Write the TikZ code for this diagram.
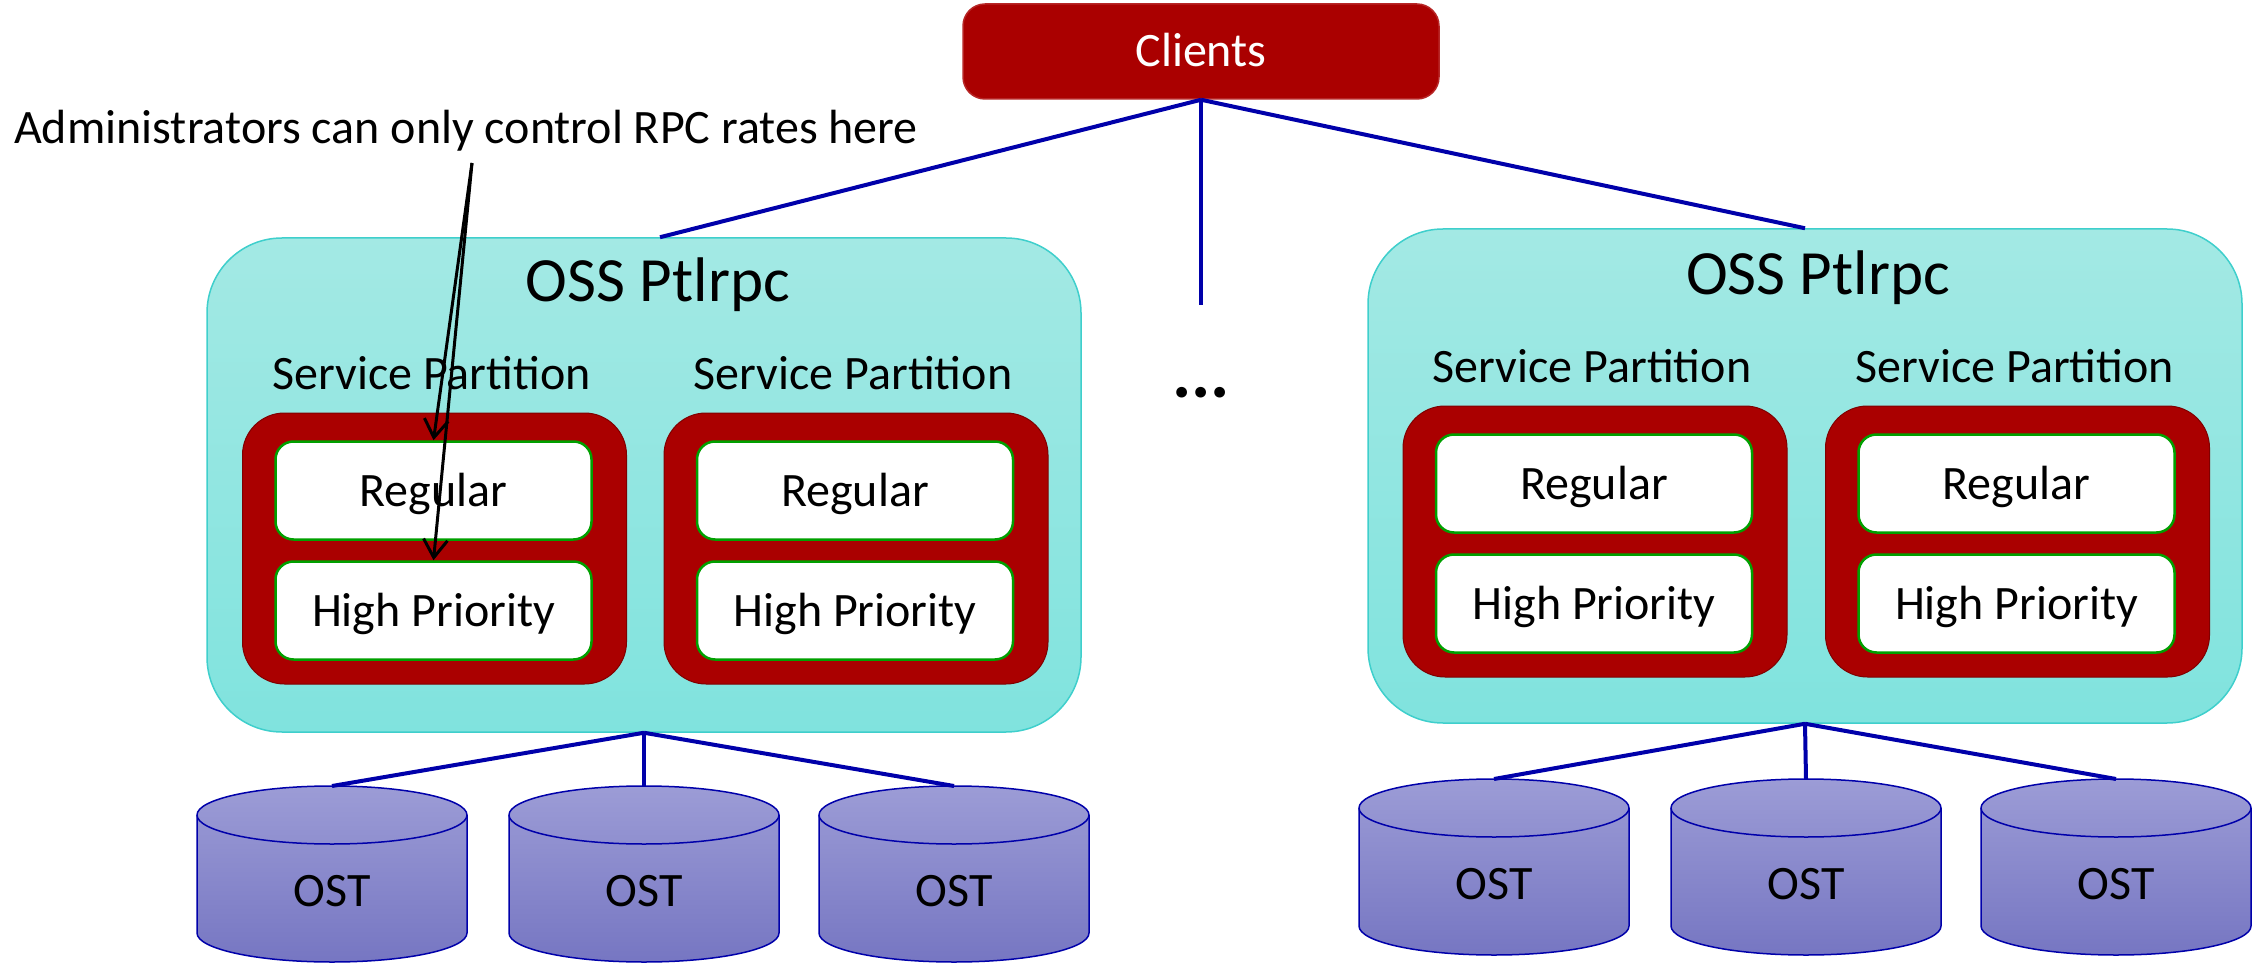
\documentclass[tikz,border=0pt]{standalone}
\usepackage{fontspec}
\setmainfont{Carlito}
\usetikzlibrary{arrows.meta,calc}
\definecolor{cred}{HTML}{AA0000}
\definecolor{osstop}{HTML}{A3E9E4}
\definecolor{ossbot}{HTML}{80E3DE}
\definecolor{ossline}{HTML}{3FCFCC}
\definecolor{grn}{HTML}{00A000}
\definecolor{cyltop}{HTML}{9C9CD6}
\definecolor{cylbot}{HTML}{7676C2}
\definecolor{dblue}{HTML}{0000AA}
\tikzset{
  txt/.style={font=\fontsize{48}{57}\selectfont},
  bigtxt/.style={font=\fontsize{63}{75}\selectfont},
  clientbox/.style={draw=cred!85!white, fill=cred, rounded corners=22, minimum width=476, minimum height=95, text=white, txt, text height=31, text depth=0, line width=1.5, inner sep=0},
  ossbox/.style={draw=ossline, top color=osstop, bottom color=ossbot, rounded corners=75, minimum width=874, minimum height=494, line width=1.5, inner sep=0},
  partbox/.style={draw=cred!75!black, fill=cred, rounded corners=42, minimum width=384, minimum height=271, line width=1, inner sep=0},
  qbox/.style={draw=grn, fill=white, rounded corners=18, minimum width=316, minimum height=98, line width=2.5, txt, text height=31, text depth=0, inner sep=0},
  link/.style={dblue, line width=4},
  annot/.style={black, line width=3, -{Straight Barb[length=18, width=24]}},
  cylbody/.style={draw=dblue, line width=1.5, top color=cyltop, bottom color=cylbot},
  cylrim/.style={dblue, line width=1.5},
}
\begin{document}
\begin{tikzpicture}[x=1pt,y=1pt]
\useasboundingbox (0,0) rectangle (2254,-965);

% OSS boxes
\node[ossbox] (ossL) at (644,-485) {};
\node[ossbox] (ossR) at (1805,-476) {};
\node[bigtxt, anchor=base] (titL) at (658,-302) {OSS Ptlrpc};
\node[bigtxt, anchor=base] (titR) at (1818,-295) {OSS Ptlrpc};

% service partitions
\foreach \n/\cx/\cy in {L1/434.5/548.5, L2/856/548.5, R1/1595/541.5, R2/2017.5/541.5}{
  \node[txt, anchor=base] (sp\n) at (\cx-3,-\cy+159) {Service Partition};
  \node[partbox] (part\n) at (\cx,-\cy) {};
  \node[qbox] (reg\n) at (\cx-1,-\cy+58) {Regular};
  \node[qbox] (hp\n) at (\cx-1,-\cy-62) {High Priority};
}

% Clients
\node[clientbox] (clients) at (1201,-51.5) {Clients};
\coordinate (ossLtop) at ($(ossL.north)+(16,0)$);
\coordinate (midend) at (1201,-305);
\draw[link] (clients.south) -- (ossLtop);
\draw[link] (clients.south) -- (ossR.north);
\draw[link] (clients.south) -- (midend);
\node[font=\fontsize{72}{80}\selectfont\bfseries, anchor=base] (dots) at (1201,-397) {...};

% OST cylinders
\foreach \n/\cx/\ty in {oL1/332/786, oL2/644/786, oL3/954/786, oR1/1494/779, oR2/1806/779, oR3/2116/779}{
  \path[cylbody] (\cx-135,-\ty-29) -- (\cx-135,-\ty-147)
     arc[start angle=180, end angle=360, x radius=135, y radius=29]
     -- (\cx+135,-\ty-29)
     arc[start angle=0, end angle=180, x radius=135, y radius=29] -- cycle;
  \draw[cylrim] (\cx-135,-\ty-29) arc[start angle=180, end angle=360, x radius=135, y radius=29];
  \node[txt, anchor=base] (\n) at (\cx,-\ty-120) {OST};
  \coordinate (\n top) at (\cx,-\ty);
}
\foreach \o in {oL1,oL2,oL3}{ \draw[link] (ossL.south) -- (\o top); }
\foreach \o in {oR1,oR2,oR3}{ \draw[link] (ossR.south) -- (\o top); }

% annotation
\node[txt, anchor=base west, inner sep=0] (note) at (14,-144) {Administrators can only control RPC rates here};
\coordinate (annS) at (472,-163);
\draw[annot] (annS) -- (regL1.north);
\draw[annot] (annS) -- (hpL1.north);
\end{tikzpicture}
\end{document}
